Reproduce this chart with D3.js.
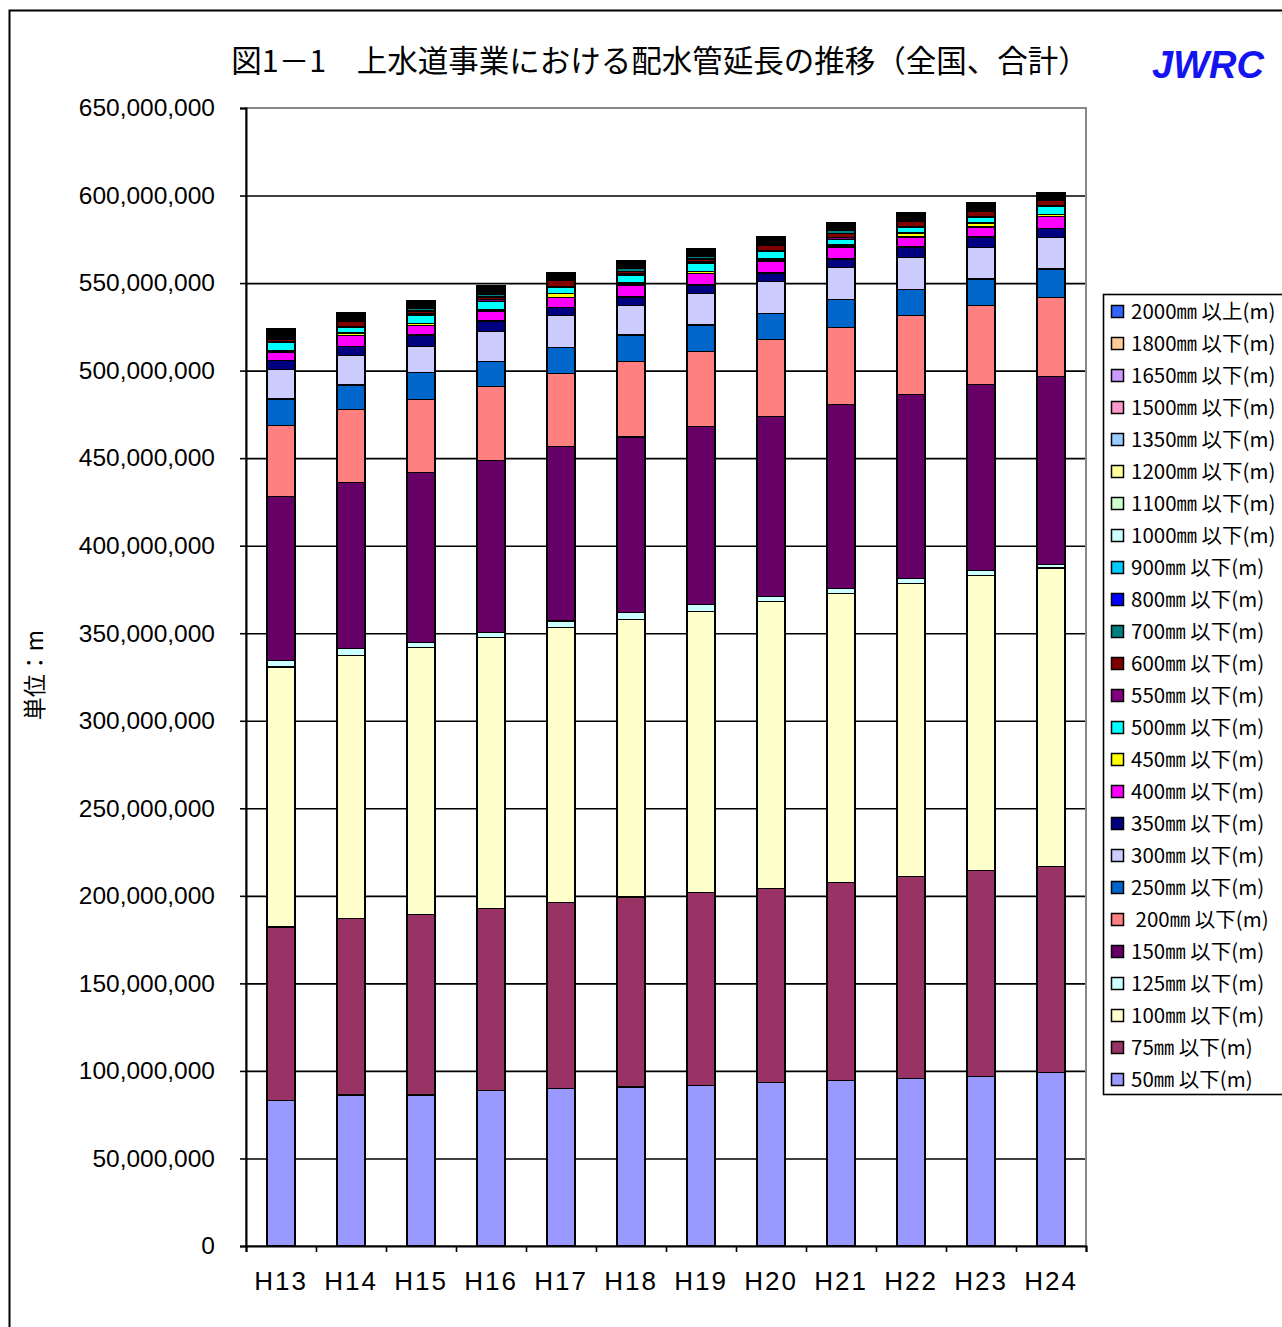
<!DOCTYPE html>
<html>
<head>
<meta charset="utf-8">
<script src="https://cdn.jsdelivr.net/npm/d3@7/dist/d3.min.js"></script>
<style>
  body { margin: 0; background: #fff; }
</style>
</head>
<body>
<div class="chartContainer"></div>
<script>
// years on the x axis
const years = ["H13", "H14", "H15", "H16", "H17", "H18", "H19", "H20", "H21", "H22", "H23", "H24"];

// series labels, bottom of the stack first
const sizeLabels = [
  "50㎜ 以下(m)", "75㎜ 以下(m)", "100㎜ 以下(m)", "125㎜ 以下(m)", "150㎜ 以下(m)",
  " 200㎜ 以下(m)", "250㎜ 以下(m)", "300㎜ 以下(m)", "350㎜ 以下(m)", "400㎜ 以下(m)",
  "450㎜ 以下(m)", "500㎜ 以下(m)", "550㎜ 以下(m)", "600㎜ 以下(m)", "700㎜ 以下(m)",
  "800㎜ 以下(m)", "900㎜ 以下(m)", "1000㎜ 以下(m)", "1100㎜ 以下(m)", "1200㎜ 以下(m)",
  "1350㎜ 以下(m)", "1500㎜ 以下(m)", "1650㎜ 以下(m)", "1800㎜ 以下(m)", "2000㎜ 以上(m)"
];

// pipe length per size class, millions of metres
const v50   = [83.0, 86.2, 86.2, 88.7, 89.8, 90.8, 91.9, 93.2, 94.4, 95.5, 96.7, 99.0];
const v75   = [99.2, 100.7, 103.0, 104.0, 106.3, 108.5, 109.9, 110.9, 113.1, 115.4, 117.7, 117.6];
const v100  = [148.5, 150.5, 152.8, 155.0, 157.3, 158.6, 160.7, 164.1, 165.3, 167.6, 168.7, 170.7];
const v125  = [3.6, 3.8, 2.6, 2.6, 3.6, 3.8, 3.8, 2.7, 2.7, 2.6, 2.6, 1.9];
const v150  = [93.7, 94.8, 97.1, 98.2, 99.5, 100.4, 101.7, 102.8, 105.0, 105.1, 106.2, 107.3];
const v200  = [40.8, 41.9, 41.9, 42.3, 41.9, 43.0, 42.8, 44.2, 44.2, 45.4, 45.4, 45.4];
const v250  = [15.0, 13.9, 15.2, 14.5, 14.9, 15.2, 15.2, 14.8, 16.0, 14.8, 15.0, 16.1];
const v300  = [16.9, 16.9, 15.2, 16.9, 18.1, 16.8, 18.1, 18.3, 18.1, 18.3, 17.9, 17.9];
const v350  = [4.9, 4.9, 6.3, 6.1, 4.8, 4.9, 4.8, 4.7, 4.9, 5.9, 6.1, 5.1];
const v400  = [5.0, 6.5, 5.4, 5.7, 5.7, 6.9, 6.5, 6.9, 6.9, 5.7, 5.7, 6.9];
const v450  = [1.0, 1.4, 1.4, 1.0, 2.3, 1.1, 1.2, 1.1, 1.1, 2.3, 2.3, 1.1];
const v500  = [4.3, 3.1, 4.4, 4.7, 3.5, 4.3, 4.6, 4.6, 3.4, 3.4, 3.4, 4.6];
const v550  = [0.6, 0.6, 0.8, 0.9, 0.5, 0.9, 0.8, 0.5, 0.9, 0.5, 0.5, 0.5];
const v600  = [1.5, 3.1, 1.7, 1.4, 3.1, 1.4, 1.8, 2.9, 2.3, 2.9, 2.9, 2.9];
const v700  = [0.4, 0.3, 1.7, 1.7, 0.3, 1.7, 1.7, 0.3, 1.7, 0.3, 0.3, 0.3];
const v800  = [0.8, 0.7, 0.5, 0.6, 0.5, 0.6, 0.5, 0.6, 0.6, 0.6, 0.6, 0.6];
const v900  = [0.8, 0.7, 0.5, 0.6, 0.6, 0.6, 0.6, 0.6, 0.6, 0.6, 0.6, 0.6];
const v1000 = [0.8, 0.6, 0.6, 0.6, 0.6, 0.6, 0.6, 0.6, 0.6, 0.6, 0.6, 0.6];
const v1100 = [0.5, 0.4, 0.4, 0.4, 0.4, 0.4, 0.4, 0.4, 0.4, 0.4, 0.4, 0.4];
const v1200 = [0.6, 0.5, 0.4, 0.5, 0.4, 0.5, 0.4, 0.5, 0.5, 0.5, 0.5, 0.5];
const v1350 = [0.5, 0.4, 0.4, 0.4, 0.4, 0.4, 0.4, 0.4, 0.4, 0.4, 0.4, 0.4];
const v1500 = [0.5, 0.4, 0.4, 0.4, 0.4, 0.4, 0.4, 0.4, 0.4, 0.4, 0.4, 0.4];
const v1650 = [0.3, 0.2, 0.2, 0.2, 0.2, 0.2, 0.2, 0.2, 0.2, 0.2, 0.2, 0.2];
const v1800 = [0.2, 0.2, 0.2, 0.3, 0.2, 0.2, 0.2, 0.2, 0.2, 0.2, 0.2, 0.2];
const v2000 = [0.8, 0.6, 0.6, 0.6, 0.6, 0.6, 0.6, 0.6, 0.6, 0.6, 0.6, 0.6];

const seriesValues = [v50, v75, v100, v125, v150, v200, v250, v300, v350, v400, v450, v500,
  v550, v600, v700, v800, v900, v1000, v1100, v1200, v1350, v1500, v1650, v1800, v2000];

const colors = ["#9999FF", "#993366", "#FFFFCC", "#CCFFFF", "#660066", "#FF8080", "#0066CC",
  "#CCCCFF", "#000080", "#FF00FF", "#FFFF00", "#00FFFF", "#800080", "#800000", "#008080",
  "#0000FF", "#00CCFF", "#CCFFFF", "#CCFFCC", "#FFFF99", "#99CCFF", "#FF99CC", "#CC99FF",
  "#FFCC99", "#3366FF"];

const yTicks = d3.range(0, 651, 50); // millions

const W = 1282, H = 1327;
const plot = { left: 246, right: 1086, top: 108, bottom: 1246 };
const jpFont = "'Noto Sans CJK JP', 'Noto Sans', sans-serif";
const numFont = "'Liberation Sans', Arial, sans-serif";

const svg = d3.select(".chartContainer").append("svg")
  .attr("width", W).attr("height", H);

// outer frame
svg.append("rect")
  .attr("x", 9.5).attr("y", 10.5)
  .attr("width", W + 20).attr("height", H + 20)
  .attr("fill", "none").attr("stroke", "#000").attr("stroke-width", 2);

// title + logo
svg.append("text")
  .attr("x", 660).attr("y", 72)
  .attr("text-anchor", "middle")
  .style("font-family", jpFont).style("font-size", "30.5px")
  .text("図1－1　上水道事業における配水管延長の推移（全国、合計）");

svg.append("text")
  .attr("x", 1208).attr("y", 78)
  .attr("text-anchor", "middle")
  .style("font-family", numFont).style("font-size", "38px")
  .style("font-weight", "bold").style("font-style", "italic")
  .attr("fill", "#1414F0")
  .text("JWRC");

// scales
const x = d3.scaleBand().domain(years)
  .range([plot.left, plot.right]).paddingInner(0.6).paddingOuter(0.3);
const xEdge = d3.scaleLinear().domain([0, years.length]).range([plot.left, plot.right]);
const y = d3.scaleLinear().domain([0, 650]).range([plot.bottom, plot.top]);

// gridlines
const grid = svg.append("g")
  .attr("transform", `translate(${plot.left},0)`)
  .call(d3.axisLeft(y).tickValues(d3.range(50, 601, 50))
    .tickSize(-(plot.right - plot.left)).tickFormat(""));
grid.select(".domain").remove();
grid.selectAll("line").attr("stroke", "#000").attr("stroke-width", 1.6);

// plot area border (gray top / right)
svg.append("rect")
  .attr("x", plot.left).attr("y", plot.top)
  .attr("width", plot.right - plot.left).attr("height", plot.bottom - plot.top)
  .attr("fill", "none").attr("stroke", "#888").attr("stroke-width", 2);

// stacked bars
const table = years.map((yr, i) => {
  const row = { year: yr };
  seriesValues.forEach((s, k) => { row[k] = s[i]; });
  return row;
});
const stacked = d3.stack().keys(d3.range(seriesValues.length))(table);

svg.append("g").selectAll("g")
  .data(stacked)
  .enter().append("g")
  .attr("fill", (d, k) => colors[k])
  .selectAll("rect")
  .data(d => d)
  .enter().append("rect")
  .attr("x", d => x(d.data.year))
  .attr("width", x.bandwidth())
  .attr("y", d => y(d[1]))
  .attr("height", d => y(d[0]) - y(d[1]))
  .attr("stroke", "#000")
  .attr("stroke-width", 1.2)
  .attr("shape-rendering", "crispEdges");

// y axis
const yAxis = svg.append("g")
  .attr("transform", `translate(${plot.left},0)`)
  .call(d3.axisLeft(y).tickValues(yTicks).tickSize(6).tickPadding(25)
    .tickFormat(d => d3.format(",")(d * 1e6)));
yAxis.selectAll("line").attr("stroke", "#000").attr("stroke-width", 1.6);
yAxis.select(".domain").attr("stroke", "#000").attr("stroke-width", 2);
yAxis.selectAll("text")
  .style("font-family", numFont).style("font-size", "24.5px").attr("fill", "#000");

// x axis: ticks at category edges, labels at centres
const xTickAxis = svg.append("g")
  .attr("transform", `translate(0,${plot.bottom})`)
  .call(d3.axisBottom(xEdge).ticks(years.length).tickSize(6).tickFormat(""));
xTickAxis.selectAll("line").attr("stroke", "#000").attr("stroke-width", 1.6);
xTickAxis.select(".domain").attr("stroke", "#000").attr("stroke-width", 2);

const xAxis = svg.append("g")
  .attr("transform", `translate(0,${plot.bottom})`)
  .call(d3.axisBottom(x).tickSize(0).tickPadding(26));
xAxis.select(".domain").remove();
xAxis.selectAll("text")
  .style("font-family", numFont).style("font-size", "26px")
  .style("letter-spacing", "2px").attr("fill", "#000");

// axis title
svg.append("text")
  .attr("transform", "translate(43,675) rotate(-90)")
  .attr("text-anchor", "middle")
  .style("font-family", jpFont).style("font-size", "23px")
  .text("単位：m");

// legend, top entry is the top of the stack
const legend = svg.append("g").attr("transform", "translate(1103,294)");
legend.append("rect")
  .attr("x", 0.5).attr("y", 0.5).attr("width", 200).attr("height", 800)
  .attr("fill", "#fff").attr("stroke", "#000").attr("stroke-width", 1.6);

const order = d3.range(seriesValues.length).reverse();
const item = legend.selectAll("g.item")
  .data(order)
  .enter().append("g")
  .attr("class", "item")
  .attr("transform", (k, i) => `translate(0,${18 + i * 32})`);
item.append("rect")
  .attr("x", 8.5).attr("y", -6.5).attr("width", 12).attr("height", 12)
  .attr("fill", k => colors[k]).attr("stroke", "#000").attr("stroke-width", 1.5);
item.append("text")
  .attr("x", 28).attr("y", 0).attr("dy", "0.35em")
  .style("font-family", jpFont).style("font-size", "20.5px")
  .style("white-space", "pre")
  .text(k => sizeLabels[k]);
</script>
</body>
</html>
